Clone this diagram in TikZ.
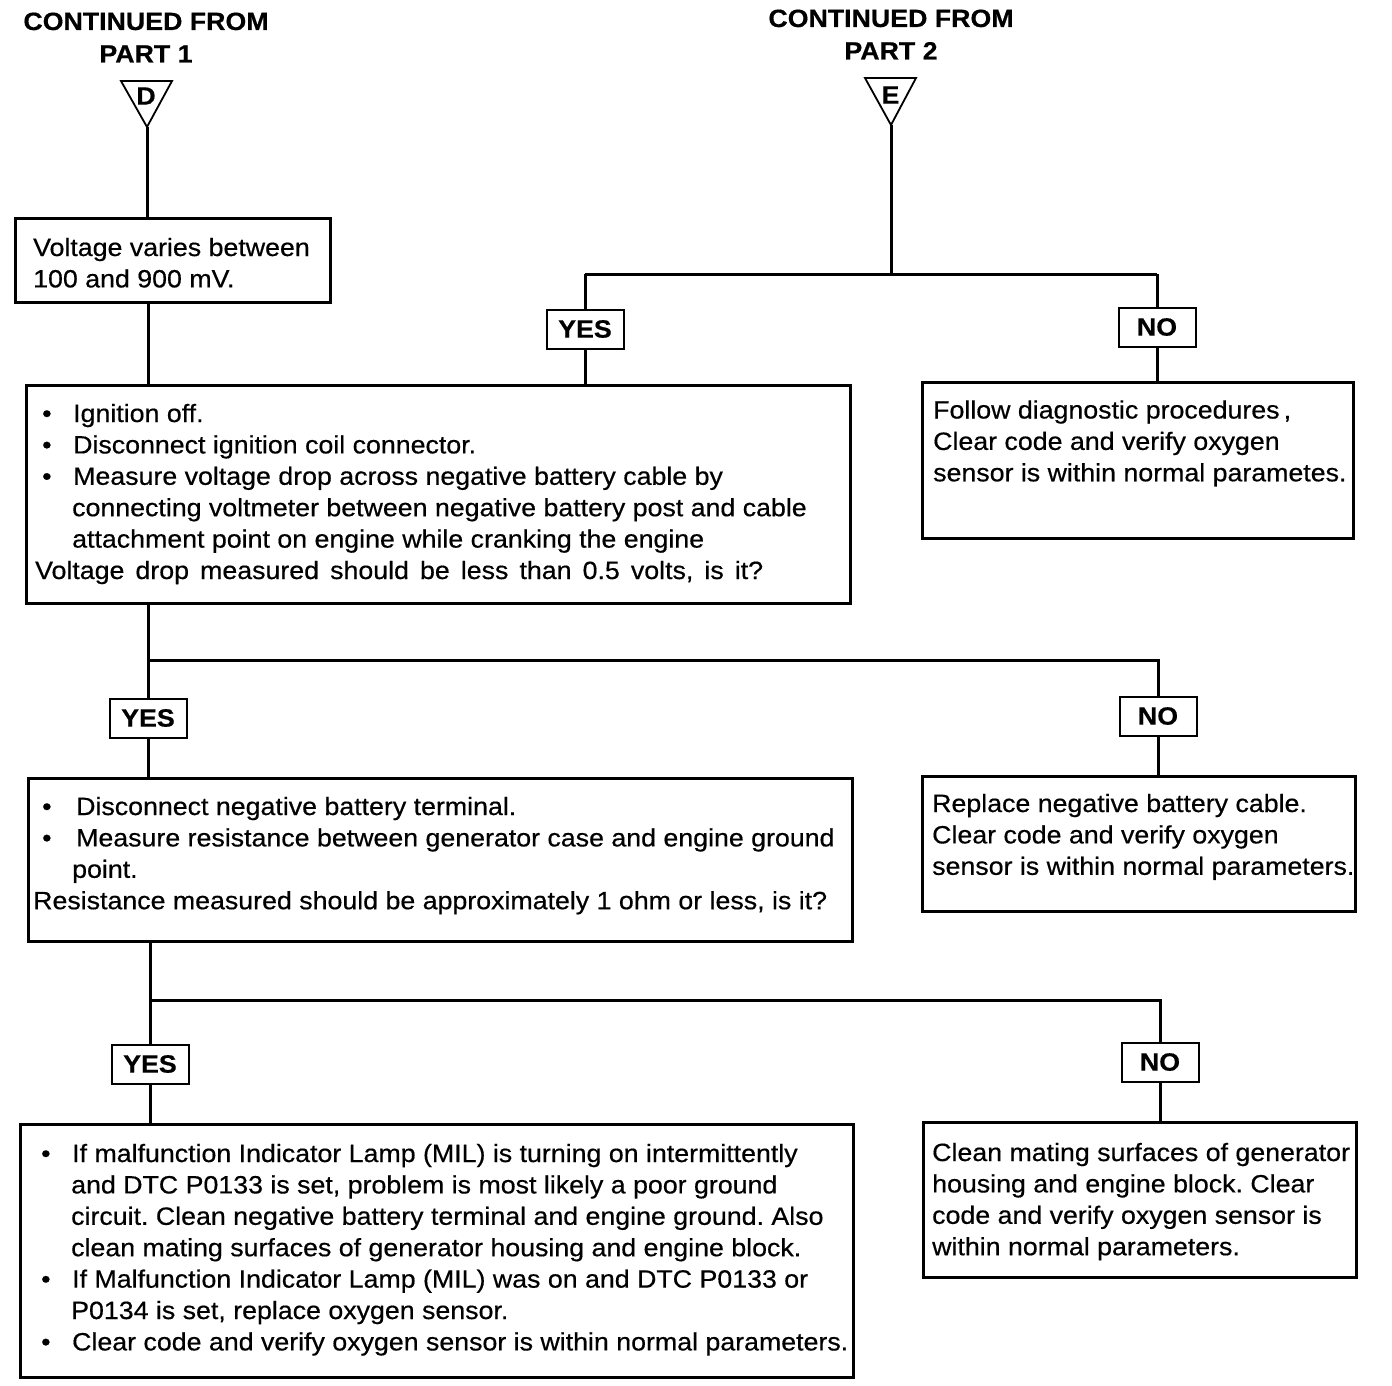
\documentclass[tikz,border=0pt]{standalone}
\usepackage{fontspec}
\setmainfont[FakeStretch=1.07,FakeBold=0.5]{Liberation Sans}
\newcommand\bitem[2]{\makebox[#1][l]{\textbullet}#2}
\frenchspacing
\begin{document}
\begin{tikzpicture}[x=1pt,y=-1pt,
  box/.style={draw,line width=2.6pt,inner sep=0pt,anchor=north west},
  lbl/.style={draw,line width=2pt,minimum width=77pt,minimum height=39pt,inner sep=0pt,font=\fontsize{25}{28}\selectfont\bfseries},
  txt/.style={inner sep=0pt,anchor=base west,font=\fontsize{25}{31.4}\selectfont},
  ttl/.style={inner sep=0pt,anchor=base,font=\fontsize{25}{32.5}\selectfont\bfseries},
  conn/.style={line width=3pt},
  tri/.style={line width=1.8pt,line join=miter}]
\useasboundingbox (0,0) rectangle (1392,1386);

% titles
\node[ttl] (t1) at (146,30) {\begin{tabular}[t]{@{}c@{}}CONTINUED FROM\\PART 1\end{tabular}};
\node[ttl] (t2) at (891,27) {\begin{tabular}[t]{@{}c@{}}CONTINUED FROM\\PART 2\end{tabular}};

% connector triangles
\coordinate (Dtip) at (147,127);
\draw[tri] (121,81) -- (172,81) -- (Dtip) -- cycle;
\node[inner sep=0pt,font=\fontsize{25}{25}\selectfont\bfseries] (D) at (146,96) {D};
\coordinate (Etip) at (891,125);
\draw[tri] (865,78) -- (916,78) -- (Etip) -- cycle;
\node[inner sep=0pt,font=\fontsize{25}{25}\selectfont\bfseries] (E) at (890.5,95) {E};

% boxes
\node[box,minimum width=315pt,minimum height=84pt] (b1) at (14,217) {};
\node[box,minimum width=824pt,minimum height=218pt] (b2) at (25,384) {};
\node[box,minimum width=431pt,minimum height=156pt] (b3) at (921,381) {};
\node[box,minimum width=824pt,minimum height=163pt] (b4) at (27,777) {};
\node[box,minimum width=433pt,minimum height=135pt] (b5) at (921,775) {};
\node[box,minimum width=833pt,minimum height=253pt] (b6) at (19,1123) {};
\node[box,minimum width=433pt,minimum height=155pt] (b7) at (922,1121) {};

% texts
\node[txt] (x1) at (33,256) {\begin{tabular}[t]{@{}l@{}}Voltage varies between\\100 and 900 mV.\end{tabular}};
\node[txt] (x2) at (42,422) {\begin{tabular}[t]{@{}l@{}}%
\bitem{31pt}{Ignition off.}\\
\bitem{31pt}{Disconnect ignition coil connector.}\\
\bitem{31pt}{Measure voltage drop across negative battery cable by}\\
\hspace*{30pt}connecting voltmeter between negative battery post and cable\\
\hspace*{30pt}attachment point on engine while cranking the engine\\
\hspace*{-7pt}\makebox[728pt][s]{Voltage drop measured should be less than 0.5 volts, is it?}\end{tabular}};
\node[txt] (x3) at (933,418.5) {\begin{tabular}[t]{@{}l@{}}Follow diagnostic procedures\,,\\Clear code and verify oxygen\\sensor is within normal parametes.\end{tabular}};
\node[txt] (x4) at (42,815) {\begin{tabular}[t]{@{}l@{}}%
\bitem{34pt}{Disconnect negative battery terminal.}\\
\bitem{34pt}{Measure resistance between generator case and engine ground}\\
\hspace*{30pt}point.\\
\hspace*{-9pt}Resistance measured should be approximately 1 ohm or less, is it?\end{tabular}};
\node[txt] (x5) at (932,812) {\begin{tabular}[t]{@{}l@{}}Replace negative battery cable.\\Clear code and verify oxygen\\sensor is within normal parameters.\end{tabular}};
\node[txt] (x6) at (41,1162) {\begin{tabular}[t]{@{}l@{}}%
\bitem{31pt}{If malfunction Indicator Lamp (MIL) is turning on intermittently}\\
\hspace*{30pt}and DTC P0133 is set, problem is most likely a poor ground\\
\hspace*{30pt}circuit. Clean negative battery terminal and engine ground. Also\\
\hspace*{30pt}clean mating surfaces of generator housing and engine block.\\
\bitem{31pt}{If Malfunction Indicator Lamp (MIL) was on and DTC P0133 or}\\
\hspace*{30pt}P0134 is set, replace oxygen sensor.\\
\bitem{31pt}{Clear code and verify oxygen sensor is within normal parameters.}\end{tabular}};
\node[txt] (x7) at (932,1161) {\begin{tabular}[t]{@{}l@{}}Clean mating surfaces of generator\\housing and engine block. Clear\\code and verify oxygen sensor is\\within normal parameters.\end{tabular}};

% yes/no labels
\node[lbl] (y1) at (585,329) {YES};
\node[lbl] (n1) at (1157,327) {NO};
\node[lbl] (y2) at (148,718) {YES};
\node[lbl] (n2) at (1158,716) {NO};
\node[lbl] (y3) at (150,1064) {YES};
\node[lbl] (n3) at (1160,1062) {NO};

% junctions
\coordinate (j1) at (891,274);
\coordinate (j2) at (148,660);
\coordinate (j3) at (150,1000);

% connectors
\draw[conn] (Dtip) -- (Dtip |- b1.north);
\draw[conn] (j2 |- b1.south) -- (j2 |- b2.north);
\draw[conn] (Etip) -- (j1);
\draw[conn] (y1.north |- j1) -- (n1.north |- j1);
\draw[conn] (y1.north |- j1) -- (y1.north);
\draw[conn] (n1.north |- j1) -- (n1.north);
\draw[conn] (y1.south) -- (y1.south |- b2.north);
\draw[conn] (n1.south) -- (n1.south |- b3.north);

\draw[conn] (j2 |- b2.south) -- (j2) -- (n2.north |- j2) -- (n2.north);
\draw[conn] (j2) -- (y2.north);
\draw[conn] (y2.south) -- (y2.south |- b4.north);
\draw[conn] (n2.south) -- (n2.south |- b5.north);

\draw[conn] (j3 |- b4.south) -- (j3) -- (n3.north |- j3) -- (n3.north);
\draw[conn] (j3) -- (y3.north);
\draw[conn] (y3.south) -- (y3.south |- b6.north);
\draw[conn] (n3.south) -- (n3.south |- b7.north);
\end{tikzpicture}
\end{document}
